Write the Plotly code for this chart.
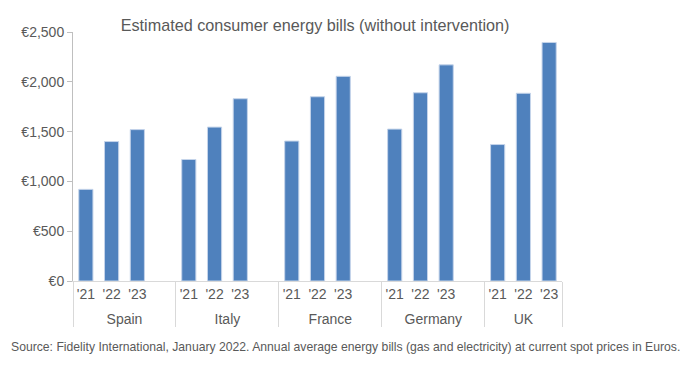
import plotly.graph_objects as go

countries = ["Spain", "Italy", "France", "Germany", "UK"]
years = ["'21", "'22", "'23"]
bills = {
    "Spain":   [920, 1400, 1520],
    "Italy":   [1220, 1545, 1830],
    "France":  [1405, 1850, 2055],
    "Germany": [1525, 1890, 2170],
    "UK":      [1370, 1885, 2395],
}
y_ticks = [0, 500, 1000, 1500, 2000, 2500]
y_tick_labels = ["€0", "€500", "€1,000", "€1,500", "€2,000", "€2,500"]

title = "Estimated consumer energy bills (without intervention)"
source = ("Source: Fidelity International, January 2022. Annual average energy bills "
          "(gas and electricity) at current spot prices in Euros.")

# invisible taller padding around year labels -> more room before country row
PAD = "<span style='font-size:21px'>\u00a0</span>"

# build multicategory x with a blank spacer slot after each group except the last
lvl0, lvl1, vals = [], [], []
for i, c in enumerate(countries):
    for yr, v in zip(years, bills[c]):
        lvl0.append(c)
        lvl1.append(PAD + yr + PAD)
        vals.append(v)
    if i < len(countries) - 1:
        lvl0.append(c)
        lvl1.append(" " * (i + 1))
        vals.append(None)

FONT = "Liberation Sans, Arial, sans-serif"
GREY = "#595959"

fig = go.Figure(go.Bar(
    x=[lvl0, lvl1], y=vals,
    marker=dict(color="#4F81BD", line=dict(color="#C5D4EA", width=1)),
    width=0.55,
    hoverinfo="y",
))

# page body has an 8px default margin, so the figure is sized/offset accordingly
fig.update_layout(
    width=681, height=367,
    margin=dict(l=65, r=127, t=24, b=94, autoexpand=False),
    paper_bgcolor="white", plot_bgcolor="white",
    font=dict(family=FONT, color=GREY, size=14),
    showlegend=False,
    bargap=0.45,
    title=dict(text=title, xref="paper", x=0.495, xanchor="center",
               yref="container", y=0.954, yanchor="middle",
               font=dict(size=16.2, color=GREY, family=FONT)),
    annotations=[dict(text=source, xref="paper", yref="paper", x=-0.1315, y=-0.264,
                      xanchor="left", yanchor="middle", showarrow=False,
                      font=dict(size=12.2, color=GREY, family=FONT))],
)
fig.update_yaxes(
    range=[0, 2500], tickvals=y_ticks, ticktext=y_tick_labels,
    showgrid=False, zeroline=False, showline=True, linecolor="#BFBFBF", linewidth=1,
    ticks="outside", ticklen=5, tickcolor="#BFBFBF", automargin=False,
    tickfont=dict(size=14, color=GREY),
)
fig.update_xaxes(
    type="multicategory", showgrid=False, showline=True, linecolor="#D9D9D9",
    linewidth=1, showdividers=True, dividercolor="#D9D9D9", dividerwidth=1,
    ticks="outside", ticklen=11, tickcolor="rgba(0,0,0,0)", automargin=False,
    tickangle=0, tickfont=dict(size=14, color=GREY),
)

fig.write_html("out.html")
